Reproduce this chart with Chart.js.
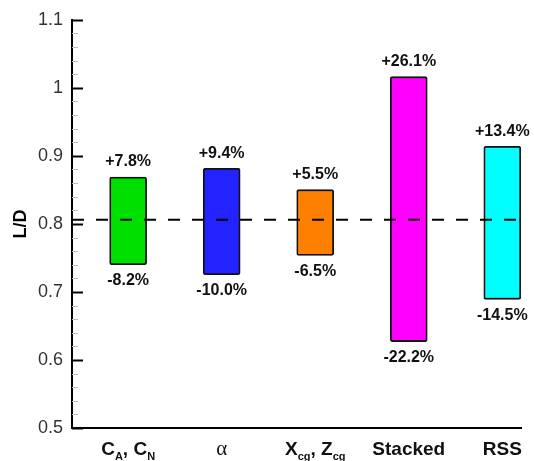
<!DOCTYPE html>
<html>
<head>
<meta charset="utf-8">
<script src="https://cdn.jsdelivr.net/npm/chart.js@4.4.1/dist/chart.umd.min.js"></script>
<style>
  html, body { margin: 0; padding: 0; background: #fff; }
  #wrap { width: 534px; height: 461px; }
</style>
</head>
<body>
<div id="wrap"><canvas id="c" width="534" height="461"></canvas></div>
<script>
// Sensitivity of L/D to each uncertainty source
const categories = [
  [['C', 'A'], [', C', ''], ['', 'N']],
  [['α', '']],
  [['X', 'cg'], [', Z', 'cg']],
  [['Stacked', '']],
  [['RSS', '']]
];
const categoryPositions = [1, 2, 3, 4, 5];
const baselineLD = 0.806;
const upPercent = [7.8, 9.4, 5.5, 26.1, 13.4];
const downPercent = [-8.2, -10.0, -6.5, -22.2, -14.5];
const barColors = ['#00e000', '#2323ff', '#ff8000', '#ff00ff', '#00ffff'];
const yTickValues = [0.5, 0.6, 0.7, 0.8, 0.9, 1.0, 1.1];
const yTickLabels = ['0.5', '0.6', '0.7', '0.8', '0.9', '1', '1.1'];

const rangeData = categoryPositions.map((x, i) => ({
  x: x,
  y: [baselineLD * (1 + downPercent[i] / 100), baselineLD * (1 + upPercent[i] / 100)]
}));

const fmtPct = v => (v > 0 ? '+' : '') + v.toFixed(1) + '%';

// inward major/minor ticks on the y axis
const innerTicks = {
  id: 'innerTicks',
  afterDraw(chart) {
    const { ctx, scales: { y }, chartArea } = chart;
    ctx.save();
    for (let k = 0; k <= 30; k++) {
      const v = 0.5 + k * 0.02;
      const py = Math.round(y.getPixelForValue(v)) + 0.5;
      const major = k % 5 === 0;
      ctx.beginPath();
      ctx.strokeStyle = major ? '#000' : '#bdbdbd';
      ctx.lineWidth = major ? 2 : 1;
      ctx.moveTo(chartArea.left, py);
      ctx.lineTo(chartArea.left + (major ? 11 : 6), py);
      ctx.stroke();
    }
    ctx.restore();
  }
};

// percentage labels at both ends of each bar, and category names with subscripts
const annotate = {
  id: 'annotate',
  afterDraw(chart) {
    const { ctx, scales: { x, y } } = chart;
    ctx.save();
    ctx.fillStyle = '#111';
    ctx.font = 'bold 16px "Liberation Sans", Arial, sans-serif';
    ctx.textAlign = 'center';
    rangeData.forEach((d, i) => {
      const px = x.getPixelForValue(d.x);
      ctx.textBaseline = 'bottom';
      ctx.fillText(fmtPct(upPercent[i]), px, y.getPixelForValue(d.y[1]) - 7);
      ctx.textBaseline = 'top';
      ctx.fillText(fmtPct(downPercent[i]), px, y.getPixelForValue(d.y[0]) + 8);
    });

    const mainFont = 'bold 19px "Liberation Sans", Arial, sans-serif';
    const subFont = 'bold 11px "Liberation Sans", Arial, sans-serif';
    const alphaFont = '21px "Liberation Serif", "DejaVu Serif", serif';
    const baseY = 455;
    ctx.textAlign = 'left';
    ctx.textBaseline = 'alphabetic';
    categories.forEach((parts, i) => {
      const cx = x.getPixelForValue(categoryPositions[i]);
      const fontFor = t => (t === 'α' ? alphaFont : mainFont);
      let w = 0;
      parts.forEach(([t, s]) => {
        ctx.font = fontFor(t); w += ctx.measureText(t).width;
        ctx.font = subFont; w += ctx.measureText(s).width;
      });
      let px = cx - w / 2;
      parts.forEach(([t, s]) => {
        ctx.font = fontFor(t);
        ctx.fillText(t, px, baseY);
        px += ctx.measureText(t).width;
        ctx.font = subFont;
        ctx.fillText(s, px, baseY + 5);
        px += ctx.measureText(s).width;
      });
    });
    ctx.restore();
  }
};

new Chart(document.getElementById('c'), {
  type: 'bar',
  data: {
    datasets: [
      {
        type: 'line',
        data: [{ x: 0.4, y: baselineLD }, { x: 5.2, y: baselineLD }],
        borderColor: '#000',
        borderWidth: 2,
        borderDash: [12, 12],
        pointRadius: 0,
        order: 0
      },
      {
        type: 'bar',
        data: rangeData,
        backgroundColor: barColors,
        borderColor: '#111',
        borderWidth: 1.8,
        borderSkipped: false,
        borderRadius: 2,
        barThickness: 37,
        order: 1
      }
    ]
  },
  options: {
    responsive: false,
    animation: false,
    layout: { padding: { top: 19, right: 13, left: 0, bottom: 0 } },
    plugins: { legend: { display: false }, tooltip: { enabled: false } },
    scales: {
      x: {
        type: 'linear',
        min: 0.4,
        max: 5.2,
        offset: false,
        grid: { display: false, drawTicks: false, offset: false },
        border: { display: true, color: '#000', width: 2 },
        ticks: { display: false },
        afterFit(s) { s.height = 33; }
      },
      y: {
        min: 0.5,
        max: 1.1,
        afterBuildTicks(s) { s.ticks = yTickValues.map(v => ({ value: v })); },
        grid: { display: false, drawTicks: false },
        border: { display: true, color: '#000', width: 2 },
        ticks: {
          padding: 9,
          color: '#333',
          font: { family: '"Liberation Sans", Arial, sans-serif', size: 18 },
          callback: (v, i) => yTickLabels[i]
        },
        title: {
          display: true,
          text: 'L/D',
          color: '#000',
          padding: { top: 10, bottom: 0 },
          font: { family: '"Liberation Sans", Arial, sans-serif', size: 18, weight: 'bold' }
        },
        afterFit(s) { s.width = 72; }
      }
    }
  },
  plugins: [innerTicks, annotate]
});
</script>
</body>
</html>
